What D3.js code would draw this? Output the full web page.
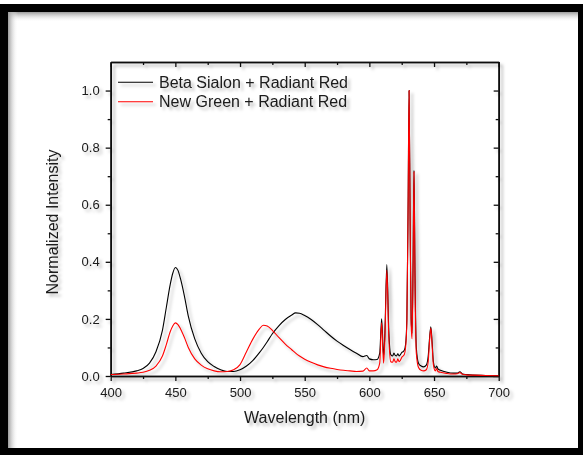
<!DOCTYPE html>
<html>
<head>
<meta charset="utf-8">
<script src="https://cdn.jsdelivr.net/npm/d3@7"></script>
<style>
  body { margin: 0; background: white; }
  text { font-family: "Liberation Sans", Arial, sans-serif; fill: #1a1a1a; }
</style>
</head>
<body>
<script>
// wavelength grid (nm), shared by both spectra
const wavelengths = [400, 410, 420, 425, 430, 435, 440, 443, 446, 448, 450, 452, 454, 457, 460, 465, 470, 475, 480, 485,
    490, 495, 500, 505, 510, 515, 518, 521, 525, 530, 535, 540, 543, 546, 550, 555, 560, 565, 570, 575,
    580, 585, 590, 595, 598, 600, 603, 606, 608, 609.5, 611, 612, 613.5, 615, 616.5, 618, 619, 620, 621, 622,
    623, 624, 625, 626, 627, 628, 629, 630, 630.7, 631.5, 632.3, 633, 633.8, 634.5, 635.3, 636.3, 638, 640, 642, 644,
    645.5, 646.5, 647.5, 648.5, 649.5, 651, 652, 653, 655, 660, 665, 668, 670, 672, 675, 680, 690, 700]

const betaSialon = [0.005, 0.01, 0.018, 0.026, 0.045, 0.085, 0.16, 0.24, 0.32, 0.36, 0.38, 0.37, 0.34, 0.28, 0.21, 0.13, 0.08, 0.05, 0.033, 0.022,
    0.016, 0.016, 0.022, 0.035, 0.055, 0.082, 0.1, 0.12, 0.148, 0.176, 0.198, 0.214, 0.221, 0.22, 0.212, 0.198, 0.18, 0.16, 0.14, 0.122,
    0.107, 0.093, 0.08, 0.068, 0.072, 0.06, 0.057, 0.058, 0.08, 0.2, 0.07, 0.15, 0.39, 0.16, 0.075, 0.07, 0.08, 0.072, 0.07, 0.078,
    0.07, 0.075, 0.082, 0.085, 0.09, 0.11, 0.2, 0.62, 1.0, 0.55, 0.2, 0.15, 0.4, 0.72, 0.35, 0.1, 0.045, 0.035, 0.032, 0.038,
    0.07, 0.13, 0.172, 0.12, 0.05, 0.028, 0.035, 0.025, 0.02, 0.013, 0.01, 0.01, 0.015, 0.007, 0.005, 0.003, 0.002, 0.001]

const newGreen = [0.005, 0.007, 0.01, 0.013, 0.02, 0.035, 0.07, 0.11, 0.155, 0.175, 0.186, 0.18, 0.165, 0.135, 0.1, 0.06, 0.038, 0.025, 0.018, 0.015,
    0.016, 0.022, 0.04, 0.085, 0.13, 0.165, 0.178, 0.175, 0.16, 0.135, 0.112, 0.092, 0.08, 0.07, 0.059, 0.048, 0.039, 0.032, 0.027, 0.023,
    0.02, 0.018, 0.016, 0.017, 0.028, 0.018, 0.018, 0.022, 0.045, 0.186, 0.045, 0.13, 0.37, 0.14, 0.05, 0.048, 0.06, 0.05, 0.048, 0.06,
    0.05, 0.055, 0.065, 0.07, 0.075, 0.1, 0.19, 0.62, 1.0, 0.55, 0.18, 0.13, 0.38, 0.715, 0.33, 0.08, 0.03, 0.02, 0.018, 0.022,
    0.05, 0.12, 0.168, 0.11, 0.04, 0.018, 0.026, 0.016, 0.013, 0.009, 0.007, 0.008, 0.012, 0.006, 0.004, 0.003, 0.002, 0.001]

const seriesNames = ['Beta Sialon + Radiant Red', 'New Green + Radiant Red']
const seriesColors = ['#000000', '#ff0000']
const xTicks = [400, 450, 500, 550, 600, 650, 700]
const xMinorTicks = [425, 475, 525, 575, 625, 675]
const yTicks = [0, 0.2, 0.4, 0.6, 0.8, 1.0]
const yMinorTicks = [0.1, 0.3, 0.5, 0.7, 0.9]

function main(){
    var width = 583;
    var height = 455;
    const plot = {left: 110.7, right: 498.7, top: 62, bottom: 376}

    let svg = d3.select("body")
        .append('svg')
        .attr('width', width)
        .attr('height', height)

    const defs = svg.append('defs')
    defs.append('filter')
        .attr('id', 'shadow')
        .attr('x', '-10%').attr('y', '-10%')
        .attr('width', '130%').attr('height', '130%')
        .append('feDropShadow')
        .attr('dx', 3).attr('dy', 3)
        .attr('stdDeviation', 1.8)
        .attr('flood-color', '#000')
        .attr('flood-opacity', 0.25)
    let gTop = defs.append('linearGradient').attr('id', 'gradTop')
        .attr('x1', 0).attr('y1', 0).attr('x2', 0).attr('y2', 1)
    gTop.append('stop').attr('offset', '0%').attr('stop-color', '#9a9a9a')
    gTop.append('stop').attr('offset', '100%').attr('stop-color', '#fff').attr('stop-opacity', 0)
    let gLeft = defs.append('linearGradient').attr('id', 'gradLeft')
        .attr('x1', 0).attr('y1', 0).attr('x2', 1).attr('y2', 0)
    gLeft.append('stop').attr('offset', '0%').attr('stop-color', '#9a9a9a')
    gLeft.append('stop').attr('offset', '100%').attr('stop-color', '#fff').attr('stop-opacity', 0)

    // frame
    svg.append('rect').attr('x', 0).attr('y', 0).attr('width', width).attr('height', height).attr('fill', 'white')
    svg.append('rect').attr('x', 0).attr('y', 4).attr('width', width).attr('height', height - 4).attr('fill', 'black')
    svg.append('rect').attr('x', 8).attr('y', 12).attr('width', 570).attr('height', 436).attr('fill', 'white')
    svg.append('rect').attr('x', 8).attr('y', 12).attr('width', 570).attr('height', 10).attr('fill', 'url(#gradTop)')
    svg.append('rect').attr('x', 8).attr('y', 12).attr('width', 10).attr('height', 436).attr('fill', 'url(#gradLeft)')

    const g = svg.append('g').attr('filter', 'url(#shadow)')

    let xScale = d3.scaleLinear()
        .domain([400, 700])
        .range([plot.left, plot.right]);
    let yScale = d3.scaleLinear()
        .domain([0, 1.1])
        .range([plot.bottom, plot.top]);

    // minor ticks
    g.append('g').attr('transform', `translate(0,${plot.bottom})`)
        .call(d3.axisBottom(xScale).tickValues(xMinorTicks).tickSize(3).tickSizeOuter(0).tickFormat(''))
    g.append('g').attr('transform', `translate(0,${plot.top})`)
        .call(d3.axisBottom(xScale).tickValues(xMinorTicks).tickSize(3).tickSizeOuter(0).tickFormat(''))
    g.append('g').attr('transform', `translate(${plot.left},0)`)
        .call(d3.axisLeft(yScale).tickValues(yMinorTicks).tickSize(3).tickSizeOuter(0).tickFormat(''))
    g.append('g').attr('transform', `translate(${plot.right},0)`)
        .call(d3.axisLeft(yScale).tickValues(yMinorTicks).tickSize(3).tickSizeOuter(0).tickFormat(''))

    // major axes
    let xAxis = g.append('g').attr('transform', `translate(0,${plot.bottom})`)
        .call(d3.axisBottom(xScale).tickValues(xTicks).tickSize(5).tickPadding(7).tickSizeOuter(0))
    g.append('g').attr('transform', `translate(0,${plot.top})`)
        .call(d3.axisBottom(xScale).tickValues(xTicks).tickSize(5).tickSizeOuter(0).tickFormat(''))
    let yAxis = g.append('g').attr('transform', `translate(${plot.left},0)`)
        .call(d3.axisLeft(yScale).tickValues(yTicks).tickSize(5).tickPadding(6).tickSizeOuter(0).tickFormat(d3.format('.1f')))
    g.append('g').attr('transform', `translate(${plot.right},0)`)
        .call(d3.axisLeft(yScale).tickValues(yTicks).tickSize(5).tickSizeOuter(0).tickFormat(''))

    g.selectAll('.domain').attr('stroke', '#111').attr('stroke-width', 1.6)
    g.selectAll('.tick line').attr('stroke', '#111').attr('stroke-width', 1.3)
    g.selectAll('.tick text').attr('font-size', '13px').attr('fill', '#1a1a1a')
        .attr('font-family', '"Liberation Sans", Arial, sans-serif')

    // spectra
    let line = d3.line()
        .x((d, i) => xScale(wavelengths[i]))
        .y(d => yScale(d))
        .curve(d3.curveMonotoneX)
    const allSeries = [betaSialon, newGreen]
    g.selectAll('path.spectrum')
        .data(allSeries)
        .enter()
        .append('path')
        .attr('class', 'spectrum')
        .attr('d', d => line(d))
        .attr('fill', 'none')
        .attr('stroke', (d, i) => seriesColors[i])
        .attr('stroke-width', 1.1)

    // legend
    let legend = g.selectAll('g.legend')
        .data(seriesNames)
        .enter()
        .append('g')
        .attr('class', 'legend')
        .attr('transform', (d, i) => `translate(118,${82.3 + i * 19.4})`)
    legend.append('line')
        .attr('x1', 0).attr('x2', 35)
        .attr('stroke', (d, i) => seriesColors[i])
        .attr('stroke-width', 1.1)
    legend.append('text')
        .attr('x', 41)
        .attr('y', 5.7)
        .attr('font-size', '16px')
        .text(d => d)

    // axis titles
    g.append('text')
        .attr('x', (plot.left + plot.right) / 2)
        .attr('y', 423)
        .attr('text-anchor', 'middle')
        .attr('font-size', '16px')
        .text('Wavelength (nm)')
    g.append('text')
        .attr('transform', `translate(57.5,${(plot.top + plot.bottom) / 2 + 3}) rotate(-90)`)
        .attr('text-anchor', 'middle')
        .attr('font-size', '16px')
        .text('Normalized Intensity')
}

main()
</script>
</body>
</html>
